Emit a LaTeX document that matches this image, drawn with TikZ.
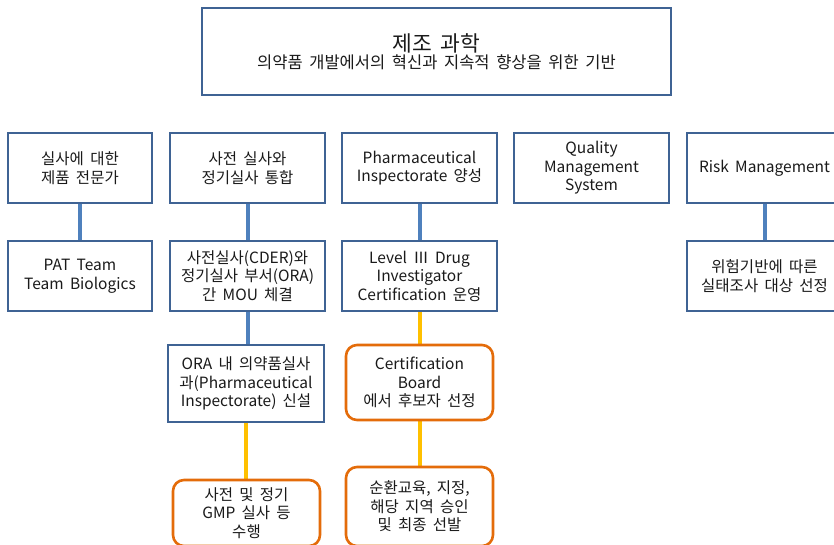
\documentclass[tikz,border=0pt]{standalone}
\usepackage{fontspec}
\setmainfont[WordSpace=1.8]{Noto Sans CJK KR}
\usetikzlibrary{backgrounds}
\definecolor{bborder}{HTML}{3F6394}
\definecolor{bline}{HTML}{4F81BD}
\definecolor{oborder}{HTML}{E46C0A}
\definecolor{yline}{HTML}{FFC000}
\definecolor{txt}{HTML}{1A1A1A}
\begin{document}
\begin{tikzpicture}[x=1pt,y=-1pt,
  bbox/.style={draw=bborder, line width=2.6pt, fill=white, align=center, inner sep=0pt, text=txt,
    font=\fontsize{15.5}{18.5}\selectfont},
  obox/.style={bbox, draw=oborder, rounded corners=11pt},
  bconn/.style={draw=bline, line width=4pt},
  yconn/.style={draw=yline, line width=4pt}]
\useasboundingbox (0,0) rectangle (834,544);
% top
\node[bbox, minimum width=469pt, minimum height=87pt] (top) at (436.5,51.5)
  {{\fontsize{21.5}{26}\selectfont 제조 과학}\\[-1pt]{\fontsize{16.5}{19}\selectfont 의약품 개발에서의 혁신과 지속적 향상을 위한 기반}};
% row 1
\node[bbox, minimum width=144pt, minimum height=70pt] (a1) at (80,168) {실사에 대한\\제품 전문가};
\node[bbox, minimum width=155pt, minimum height=70pt] (b1) at (247.5,168) {사전 실사와\\정기실사 통합};
\node[bbox, minimum width=155pt, minimum height=70pt] (c1) at (419.5,168) {Pharmaceutical\\Inspectorate 양성};
\node[bbox, minimum width=155pt, minimum height=70pt] (d1) at (591.5,168) {Quality\\Management\\System};
\node[bbox, minimum width=155pt, minimum height=70pt] (e1) at (764.5,168) {Risk Management};
% row 2
\node[bbox, minimum width=144pt, minimum height=70pt] (a2) at (80,276) {PAT Team\\Team Biologics};
\node[bbox, minimum width=155pt, minimum height=70pt] (b2) at (247.5,276) {사전실사(CDER)와\\정기실사 부서(ORA)\\간 MOU 체결};
\node[bbox, minimum width=155pt, minimum height=70pt] (c2) at (419.5,276) {Level Ⅲ Drug\\Investigator\\Certification 운영};
\node[bbox, minimum width=155pt, minimum height=70pt] (e2) at (764.5,276) {위험기반에 따른\\실태조사 대상 선정};
% row 3
\node[bbox, minimum width=156pt, minimum height=77pt] (b3) at (246,383.5) {ORA 내 의약품실사\\과(Pharmaceutical\\Inspectorate) 신설};
\node[obox, minimum width=147pt, minimum height=75pt] (c3) at (419.5,382.5) {Certification\\Board\\에서 후보자 선정};
% row 4
\node[obox, minimum width=147pt, minimum height=66pt] (b4) at (246.5,513) {사전 및 정기\\GMP 실사 등\\수행};
\node[obox, minimum width=147pt, minimum height=79pt] (c4) at (419.5,506.5) {순환교육, 지정,\\해당 지역 승인\\및 최종 선발};
% connectors
\begin{scope}[on background layer]
\draw[bconn] (a1.south) -- (a2.north);
\draw[bconn] (b1.south) -- (b2.north);
\draw[bconn] (c1.south) -- (c2.north);
\draw[bconn] (e1.south) -- (e2.north);
\draw[bconn] (b2.south) -- (b2.south |- b3.north);
\draw[yconn] (b3.south) -- (b3.south |- b4.north);
\draw[yconn] (c2.south) -- (c3.north);
\draw[yconn] (c3.south) -- (c4.north);
\end{scope}
\end{tikzpicture}
\end{document}
